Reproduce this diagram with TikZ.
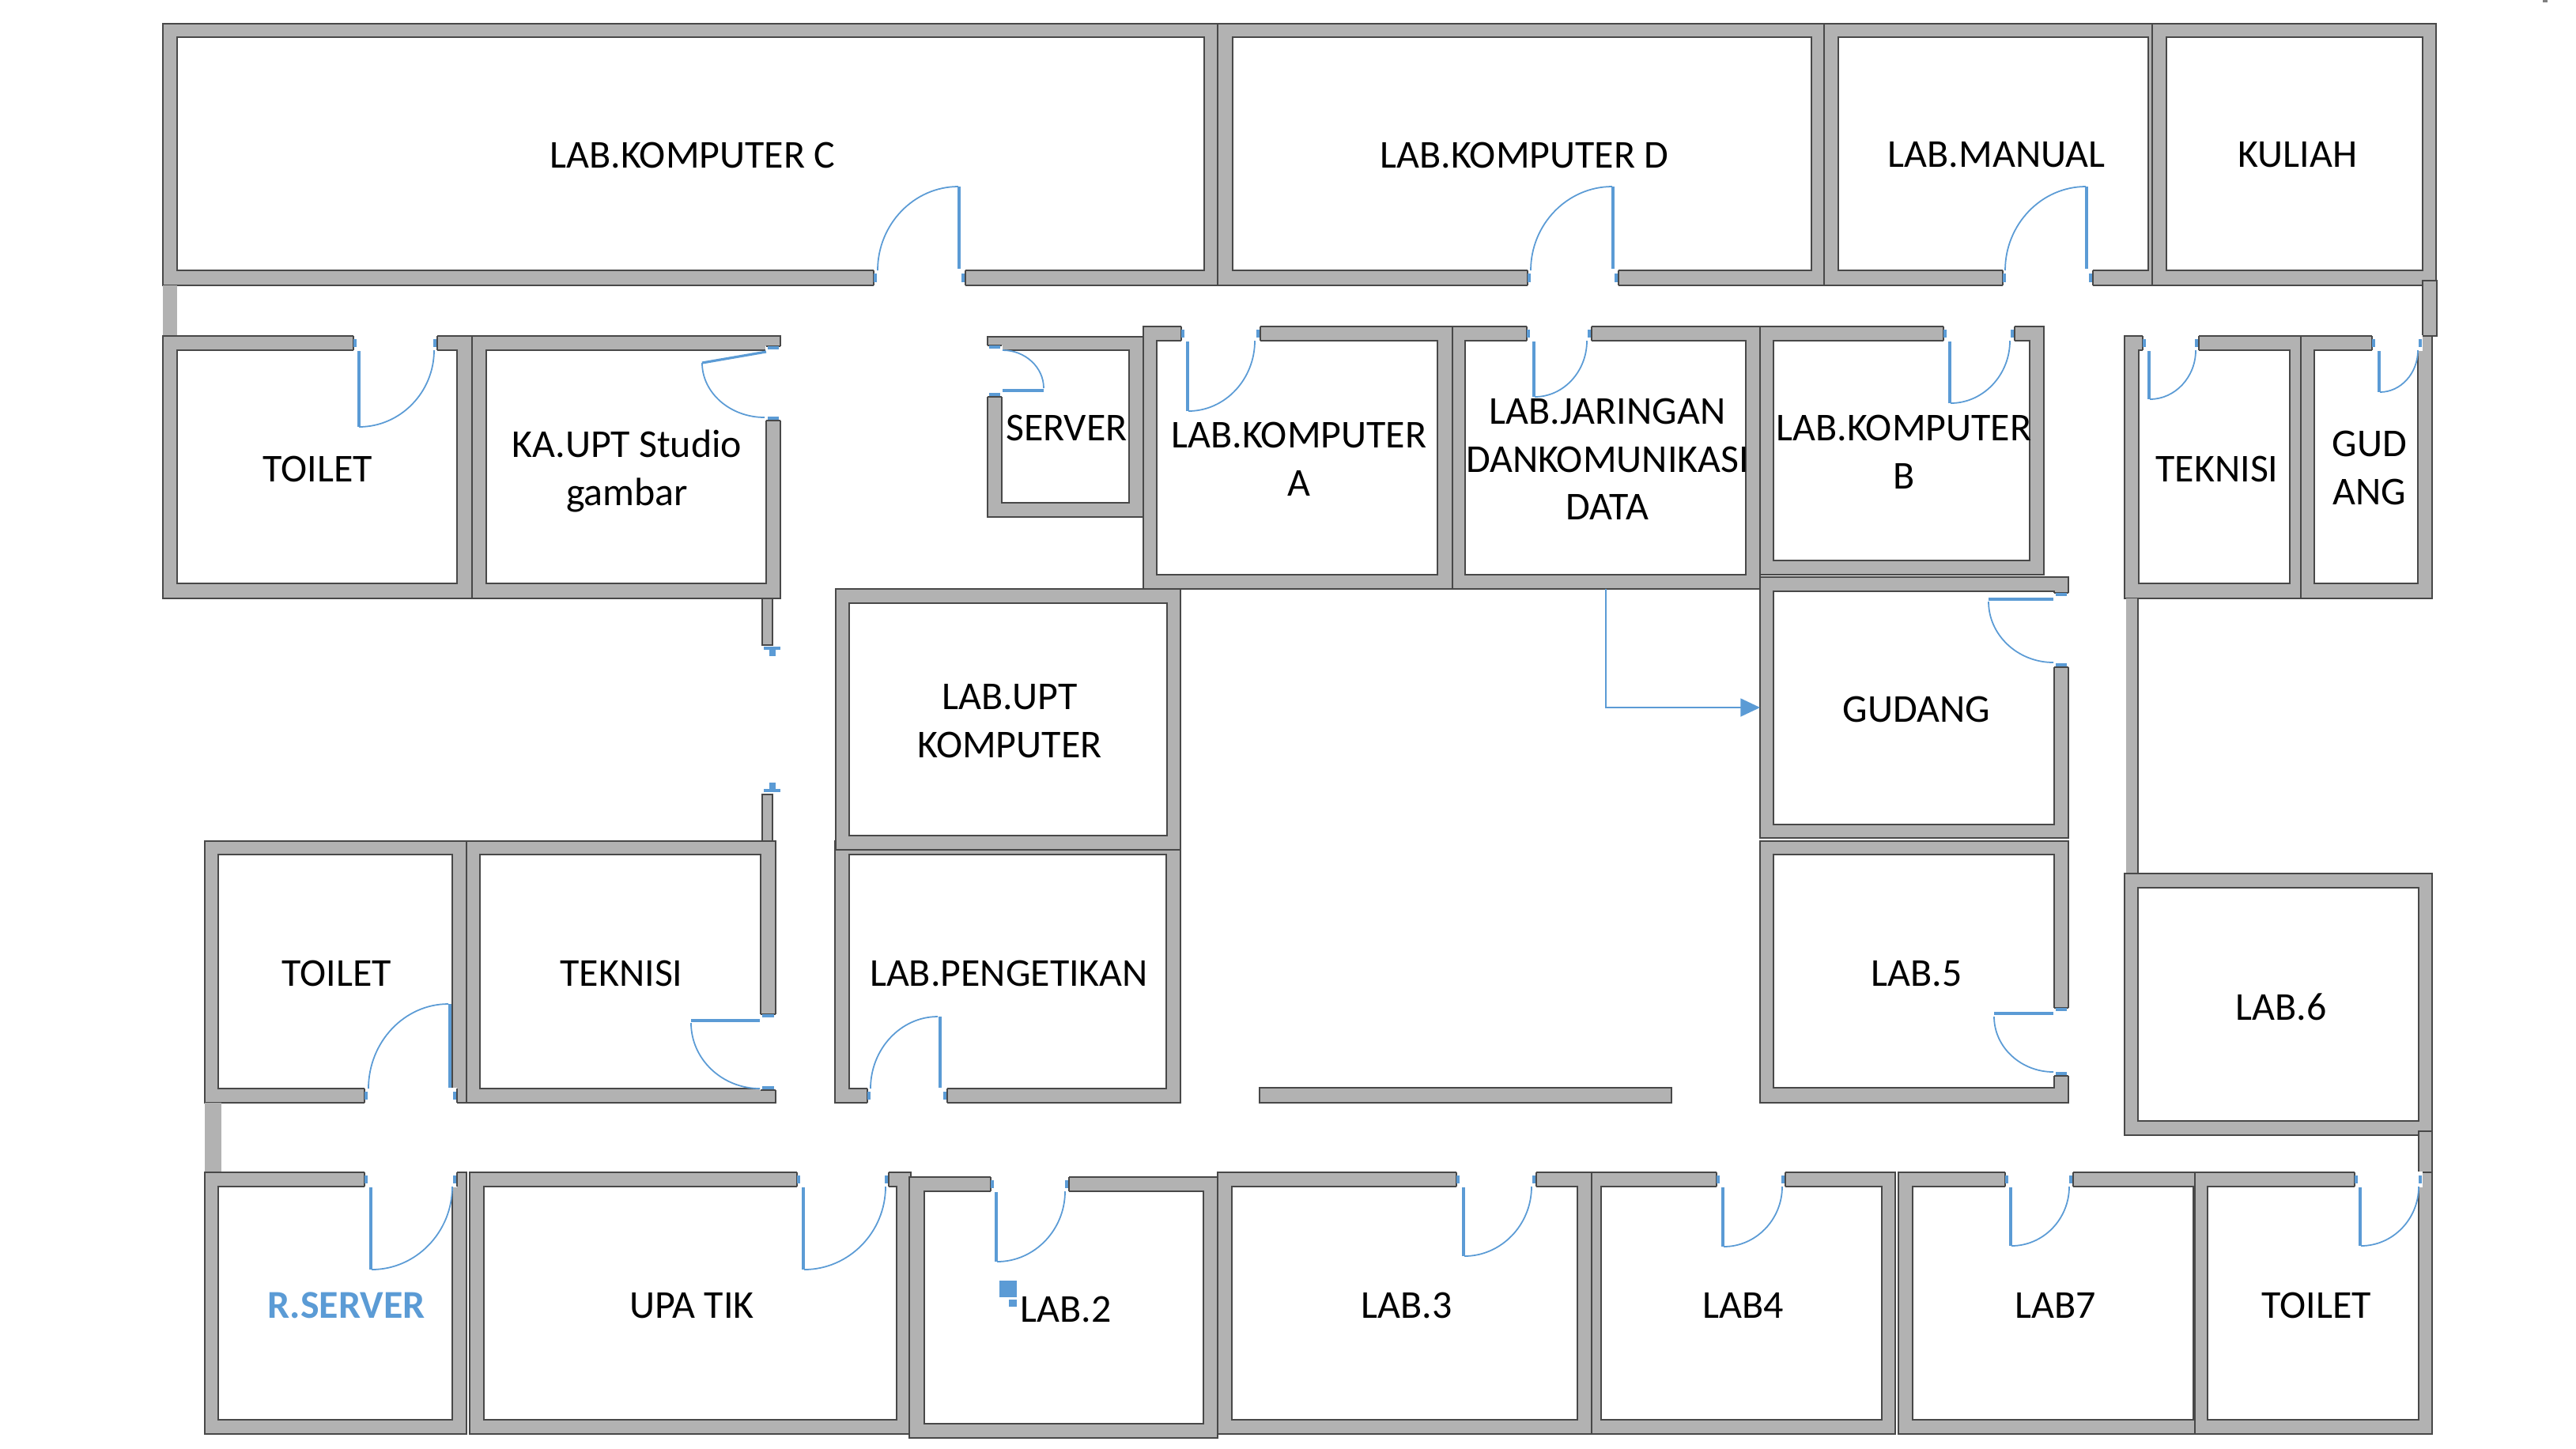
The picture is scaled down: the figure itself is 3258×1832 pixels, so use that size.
\documentclass[tikz,border=0pt]{standalone}
\usepackage{fontspec}
\setmainfont{Carlito}
\usetikzlibrary{arrows.meta,calc}
\definecolor{wallgray}{HTML}{B2B2B2}
\definecolor{walledge}{HTML}{484848}
\definecolor{doorblue}{HTML}{5B9BD5}
\tikzset{
	wall/.style={fill=wallgray, draw=walledge, line width=0.35pt, even odd rule},
	wallend/.style={draw=walledge, line width=0.35pt},
	label/.style={inner sep=0pt, align=center, font=\fontsize{14.2}{17.2}\selectfont},
	jamb/.style={draw=doorblue, line width=1.1pt},
	jambstem/.style={draw=doorblue, line width=2.3pt},
	leaf/.style={draw=doorblue, line width=0.9pt},
	swing/.style={draw=doorblue, line width=0.5pt, to path={.. controls ($(\tikztostart)!0.55!(\tikztostart |- \tikztotarget)$) and ($(\tikztotarget)!0.55!(\tikztostart |- \tikztotarget)$) .. (\tikztotarget)}}
}
\begin{document}
\begin{tikzpicture}[x=0.01cm, y=-0.01cm]
	\useasboundingbox (0,0) rectangle (3258,1832);
	\fill[gray] (3216,0) rectangle (3222,3);

	\filldraw[wall] (206,30) rectangle (1540,361) (224,47) rectangle (1523,342);
	\filldraw[wall] (1540,30) rectangle (2307,361) (1559,47) rectangle (2291,342);
	\filldraw[wall] (2307,30) rectangle (2722,361) (2325,47) rectangle (2717,342);
	\filldraw[wall] (2722,30) rectangle (3081,361) (2740,47) rectangle (3064,342);
	\fill[wallgray] (206,361) rectangle (224,425);
	\filldraw[wall] (3064,355) rectangle (3082,425);

	\filldraw[wall] (206,425) rectangle (597,757) (224,443) rectangle (578,738);
	\filldraw[wall] (597,425) rectangle (987,757) (615,443) rectangle (969,738);
	\filldraw[wall] (1249,426) rectangle (1446,654) (1267,443) rectangle (1428,636);
	\filldraw[wall] (1446,413) rectangle (1837,745) (1463,431) rectangle (1818,727);
	\filldraw[wall] (1837,413) rectangle (2226,745) (1853,431) rectangle (2208,727);
	\filldraw[wall] (2226,413) rectangle (2585,727) (2243,431) rectangle (2567,709);
	\filldraw[wall] (2687,425) rectangle (2910,757) (2705,443) rectangle (2896,738);
	\filldraw[wall] (2910,425) rectangle (3076,757) (2927,443) rectangle (3058,738);
	\filldraw[wall] (964,757) rectangle (977,816);
	\filldraw[wall] (964,1005) rectangle (977,1064);
	\fill[wallgray] (2689,757) rectangle (2704,1105);
	\draw[wallend] (2704,757) -- (2704,1105);

	\filldraw[wall] (1056,1064) rectangle (1493,1395) (1074,1081) rectangle (1475,1377);
	\filldraw[wall] (1057,745) rectangle (1493,1075) (1074,763) rectangle (1476,1057);
	\filldraw[wall] (2226,730) rectangle (2616,1060) (2243,748) rectangle (2598,1043);
	\filldraw[wall] (2226,1064) rectangle (2616,1395) (2243,1081) rectangle (2598,1376);
	\filldraw[wall] (2687,1105) rectangle (3076,1436) (2704,1123) rectangle (3059,1418);
	\filldraw[wall] (259,1064) rectangle (590,1395) (276,1081) rectangle (572,1377);
	\filldraw[wall] (590,1064) rectangle (981,1395) (607,1081) rectangle (962,1377);
	\filldraw[wall] (1593,1376) rectangle (2114,1395);
	\fill[wallgray] (259,1395) rectangle (280,1483);
	\filldraw[wall] (3059,1431) rectangle (3076,1501);

	\filldraw[wall] (259,1483) rectangle (590,1814) (276,1501) rectangle (572,1796);
	\filldraw[wall] (594,1483) rectangle (1152,1814) (612,1501) rectangle (1134,1796);
	\filldraw[wall] (1150,1489) rectangle (1540,1819) (1169,1507) rectangle (1522,1801);
	\filldraw[wall] (1540,1483) rectangle (2013,1814) (1558,1501) rectangle (1995,1796);
	\filldraw[wall] (2013,1483) rectangle (2397,1814) (2025,1501) rectangle (2380,1796);
	\filldraw[wall] (2401,1483) rectangle (2776,1814) (2419,1501) rectangle (2774,1796);
	\filldraw[wall] (2776,1483) rectangle (3076,1814) (2792,1501) rectangle (3059,1796);

	% doors
	\fill[white] (1105,341) rectangle (1221,362);
	\draw[wallend] (1105,342) -- (1105,361) (1221,342) -- (1221,361);
	\draw[jamb] (1107,346) -- (1107,357) (1218,346) -- (1218,357);
	\draw[leaf] (1213,340) -- (1213,236);
	\draw[swing] (1110,342) to (1212,236);

	\fill[white] (1932,341) rectangle (2047,362);
	\draw[wallend] (1932,342) -- (1932,361) (2047,342) -- (2047,361);
	\draw[jamb] (1934,346) -- (1934,357) (2044,346) -- (2044,357);
	\draw[leaf] (2040,340) -- (2040,236);
	\draw[swing] (1936,342) to (2039,236);

	\fill[white] (2533,341) rectangle (2647,362);
	\draw[wallend] (2533,342) -- (2533,361) (2647,342) -- (2647,361);
	\draw[jamb] (2535,346) -- (2535,357) (2644,346) -- (2644,357);
	\draw[leaf] (2639,340) -- (2639,236);
	\draw[swing] (2536,342) to (2638,236);

	\fill[white] (447,424) rectangle (553,444);
	\draw[wallend] (447,425) -- (447,443) (553,425) -- (553,443);
	\draw[jamb] (449,429) -- (449,439) (550,429) -- (550,439);
	\draw[leaf] (454,444) -- (454,540);
	\draw[swing] (549,443) to (454,540);

	\fill[white] (968,438) rectangle (988,532);
	\draw[wallend] (969,438) -- (987,438) (969,532) -- (987,532);
	\draw[jamb] (971,440) -- (985,440) (971,529) -- (985,529);
	\draw[leaf] (969,445) -- (888,459);
	\draw[swing] (888,459) to (967,528);

	\fill[white] (1248,437) rectangle (1268,502);
	\draw[wallend] (1249,437) -- (1267,437) (1249,502) -- (1267,502);
	\draw[jamb] (1251,439) -- (1265,439) (1251,499) -- (1265,499);
	\draw[leaf] (1268,494) -- (1320,494);
	\draw[swing] (1320,491) to (1268,443);

	\fill[white] (1494,412) rectangle (1594,432);
	\draw[wallend] (1494,413) -- (1494,431) (1594,413) -- (1594,431);
	\draw[jamb] (1496,417) -- (1496,427) (1591,417) -- (1591,427);
	\draw[leaf] (1502,432) -- (1502,520);
	\draw[swing] (1587,431) to (1503,520);

	\fill[white] (1931,412) rectangle (2013,432);
	\draw[wallend] (1931,413) -- (1931,431) (2013,413) -- (2013,431);
	\draw[jamb] (1933,417) -- (1933,427) (2010,417) -- (2010,427);
	\draw[leaf] (1940,432) -- (1940,502);
	\draw[swing] (2007,431) to (1941,502);

	\fill[white] (2458,412) rectangle (2548,432);
	\draw[wallend] (2458,413) -- (2458,431) (2548,413) -- (2548,431);
	\draw[jamb] (2460,417) -- (2460,427) (2545,417) -- (2545,427);
	\draw[leaf] (2466,432) -- (2466,510);
	\draw[swing] (2542,431) to (2467,510);

	\fill[white] (2710,424) rectangle (2781,444);
	\draw[wallend] (2710,425) -- (2710,443) (2781,425) -- (2781,443);
	\draw[jamb] (2712,429) -- (2712,439) (2778,429) -- (2778,439);
	\draw[leaf] (2718,444) -- (2718,505);
	\draw[swing] (2777,443) to (2719,505);

	\fill[white] (3000,424) rectangle (3064,444);
	\draw[wallend] (3000,425) -- (3000,443);
	\draw[jamb] (3002,429) -- (3002,439) (3061,429) -- (3061,439);
	\draw[leaf] (3009,444) -- (3009,496);
	\draw[swing] (3058,443) to (3010,496);

	\fill[white] (2597,750) rectangle (2617,844);
	\draw[wallend] (2598,750) -- (2616,750) (2598,844) -- (2616,844);
	\draw[jamb] (2600,752) -- (2614,752) (2600,841) -- (2614,841);
	\draw[leaf] (2515,758) -- (2597,758);
	\draw[swing] (2515,761) to (2597,838);

	\fill[white] (2597,1275) rectangle (2617,1361);
	\draw[wallend] (2598,1275) -- (2616,1275) (2598,1361) -- (2616,1361);
	\draw[jamb] (2600,1277) -- (2614,1277) (2600,1358) -- (2614,1358);
	\draw[leaf] (2522,1282) -- (2597,1282);
	\draw[swing] (2522,1286) to (2597,1356);

	\fill[white] (461,1376) rectangle (578,1396);
	\draw[wallend] (461,1377) -- (461,1395) (578,1377) -- (578,1395);
	\draw[jamb] (463,1381) -- (463,1391) (575,1381) -- (575,1391);
	\draw[leaf] (569,1376) -- (569,1270);
	\draw[swing] (466,1377) to (567,1270);

	\fill[white] (961,1283) rectangle (982,1379);
	\draw[wallend] (962,1283) -- (981,1283) (962,1379) -- (981,1379);
	\draw[jamb] (964,1285) -- (979,1285) (964,1376) -- (979,1376);
	\draw[leaf] (874,1291) -- (961,1291);
	\draw[swing] (874,1294) to (961,1377);

	\fill[white] (1097,1376) rectangle (1198,1396);
	\draw[wallend] (1097,1377) -- (1097,1395) (1198,1377) -- (1198,1395);
	\draw[jamb] (1099,1381) -- (1099,1391) (1195,1381) -- (1195,1391);
	\draw[leaf] (1189,1376) -- (1189,1286);
	\draw[swing] (1101,1377) to (1186,1286);

	\fill[white] (461,1482) rectangle (578,1502);
	\draw[wallend] (461,1483) -- (461,1501) (578,1483) -- (578,1501);
	\draw[jamb] (463,1487) -- (463,1497) (575,1487) -- (575,1497);
	\draw[leaf] (469,1502) -- (469,1606);
	\draw[swing] (572,1501) to (470,1606);

	\fill[white] (1008,1482) rectangle (1124,1502);
	\draw[wallend] (1008,1483) -- (1008,1501) (1124,1483) -- (1124,1501);
	\draw[jamb] (1010,1487) -- (1010,1497) (1121,1487) -- (1121,1497);
	\draw[leaf] (1016,1502) -- (1016,1606);
	\draw[swing] (1120,1501) to (1017,1606);

	\fill[white] (1253,1488) rectangle (1352,1508);
	\draw[wallend] (1253,1489) -- (1253,1507) (1352,1489) -- (1352,1507);
	\draw[jamb] (1255,1493) -- (1255,1503) (1349,1493) -- (1349,1503);
	\draw[leaf] (1260,1508) -- (1260,1596);
	\draw[swing] (1347,1507) to (1261,1596);

	\fill[white] (1842,1482) rectangle (1943,1502);
	\draw[wallend] (1842,1483) -- (1842,1501) (1943,1483) -- (1943,1501);
	\draw[jamb] (1844,1487) -- (1844,1497) (1940,1487) -- (1940,1497);
	\draw[leaf] (1851,1502) -- (1851,1589);
	\draw[swing] (1937,1501) to (1852,1589);

	\fill[white] (2171,1482) rectangle (2258,1502);
	\draw[wallend] (2171,1483) -- (2171,1501) (2258,1483) -- (2258,1501);
	\draw[jamb] (2173,1487) -- (2173,1497) (2255,1487) -- (2255,1497);
	\draw[leaf] (2179,1502) -- (2179,1577);
	\draw[swing] (2254,1501) to (2180,1577);

	\fill[white] (2536,1482) rectangle (2622,1502);
	\draw[wallend] (2536,1483) -- (2536,1501) (2622,1483) -- (2622,1501);
	\draw[jamb] (2538,1487) -- (2538,1497) (2619,1487) -- (2619,1497);
	\draw[leaf] (2543,1502) -- (2543,1576);
	\draw[swing] (2617,1501) to (2544,1576);

	\fill[white] (2978,1482) rectangle (3064,1502);
	\draw[wallend] (2978,1483) -- (2978,1501);
	\draw[jamb] (2980,1487) -- (2980,1497) (3061,1487) -- (3061,1497);
	\draw[leaf] (2985,1502) -- (2985,1576);
	\draw[swing] (3059,1501) to (2986,1576);

	\draw[jamb] (966,820) -- (987,820);
	\draw[jambstem] (977,822) -- (977,830);
	\draw[jamb] (966,1000) -- (987,1000);
	\draw[jambstem] (977,998) -- (977,990);

	\fill[doorblue] (1264,1620) rectangle (1286,1641);
	\fill[doorblue] (1276,1644) rectangle (1286,1653);

	\node[label] (labc) at (876,196) {LAB.KOMPUTER C};
	\node[label] (labd) at (1928,196) {LAB.KOMPUTER D};
	\node[label] (labmanual) at (2525,196) {LAB.MANUAL};
	\node[label] (kuliah) at (2906,196) {KULIAH};
	\node[label] (toileta) at (402,593) {TOILET};
	\node[label] (kaupt) at (793,596) {KA.UPT Studio\\gambar};
	\node[label] (server) at (1349,541) {SERVER};
	\node[label] (laba) at (1643,581) {LAB.KOMPUTER\\A};
	\node[label] (jaringan) at (2033,581) {LAB.JARINGAN\\DANKOMUNIKASI\\DATA};
	\node[label] (labb) at (2408,572) {LAB.KOMPUTER\\B};
	\node[label] (teknisia) at (2804,593) {TEKNISI};
	\node[label] (gudanga) at (2997,592) {GUD\\ANG};
	\node[label] (labupt) at (1277,912) {LAB.UPT\\KOMPUTER};
	\node[label] (gudangb) at (2424,897) {GUDANG};
	\node[label] (toiletb) at (426,1231) {TOILET};
	\node[label] (teknisib) at (786,1231) {TEKNISI};
	\node[label] (pengetikan) at (1276,1231) {LAB.PENGETIKAN};
	\node[label] (labfive) at (2424,1232) {LAB.5};
	\node[label] (labsix) at (2885,1274) {LAB.6};
	\node[label, text=doorblue, font=\fontsize{14.2}{17.2}\selectfont\bfseries] (rserver) at (438,1651) {R.SERVER};
	\node[label] (upatik) at (875,1652) {UPA TIK};
	\node[label] (labtwo) at (1348,1656) {LAB.2};
	\node[label] (labthree) at (1779,1651) {LAB.3};
	\node[label] (labfour) at (2205,1651) {LAB4};
	\node[label] (labseven) at (2600,1651) {LAB7};
	\node[label] (toiletc) at (2930,1651) {TOILET};

	\coordinate (jaringanwall) at (2031,745);
	\coordinate (gudangwall) at (2226,895);
	\draw[-{Triangle[length=7pt, width=6.5pt]}, doorblue, line width=0.5pt] (jaringanwall) |- (gudangwall);
\end{tikzpicture}
\end{document}
